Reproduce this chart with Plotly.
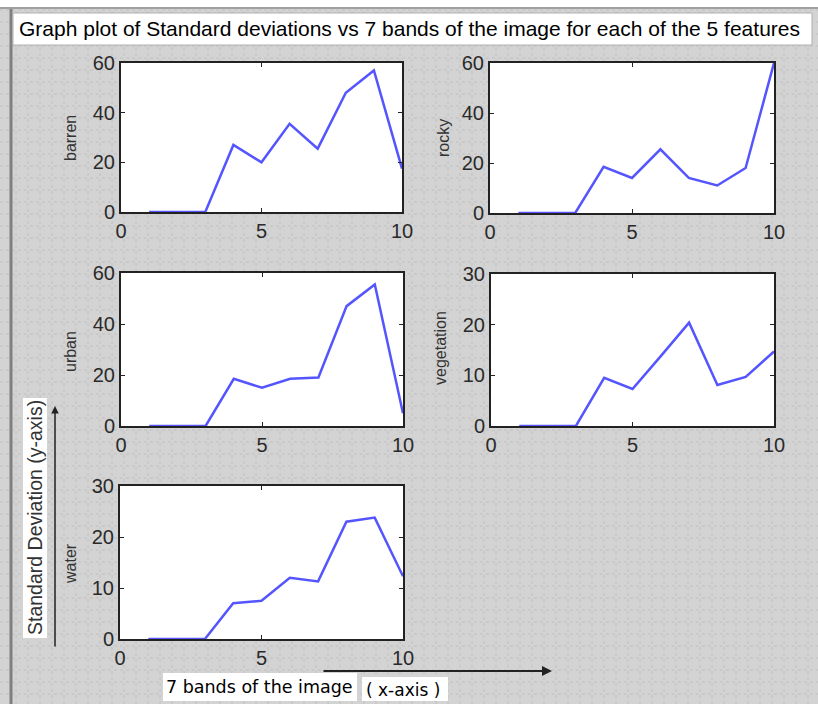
import plotly.graph_objects as go

W, H = 818, 704

bands = [1, 2, 3, 4, 5, 6, 7, 8, 9, 10]
barren = [0, 0, 0, 27, 20, 35.5, 25.5, 48, 57, 17.5]
rocky = [0, 0, 0, 18.5, 14, 25.5, 14, 11, 18, 60]
urban = [0, 0, 0, 18.5, 15, 18.5, 19, 47, 55.5, 5]
vegetation = [0, 0, 0, 9.5, 7.3, 13.8, 20.4, 8.1, 9.7, 14.7]
water = [0, 0, 0, 7, 7.5, 12, 11.3, 23, 23.8, 12.3]

feature_names = ["barren", "rocky", "urban", "vegetation", "water"]
feature_values = [barren, rocky, urban, vegetation, water]
y_max = [60, 60, 60, 30, 30]
y_ticks = [[0, 20, 40, 60], [0, 20, 40, 60], [0, 20, 40, 60], [0, 10, 20, 30], [0, 10, 20, 30]]
x_ticks = [0, 5, 10]

title_text = "Graph plot of Standard deviations vs 7 bands of the image for each of the 5 features"
y_note = "Standard Deviation (y-axis)"
x_note1 = "7 bands of the image"
x_note2 = "( x-axis )"

# plot rectangles in pixels (left, right, top, bottom)
boxes = [(121, 402, 63, 212), (490, 774, 63, 213), (121, 403, 273, 426),
         (491, 774, 274, 426), (120, 403, 486, 639)]
label_pos = [(70, 138), (443, 138), (70, 352), (440, 348), (70, 564)]

def px(x):
    return x / W

def py(y):
    return 1 - y / H

narrow = "Liberation Sans, Arial, sans-serif"
tick_font = dict(family=narrow, size=20, color="#2a2a2a")

fig = go.Figure()
shapes = []
annotations = []

# background dotted grid
for gx in range(16, W, 12):
    shapes.append(dict(type="line", xref="paper", yref="paper", x0=px(gx), x1=px(gx), y0=0, y1=1,
                       line=dict(color="#c0c0c0", width=1, dash="dot"), layer="below"))
for gy in range(10, H, 12):
    shapes.append(dict(type="line", xref="paper", yref="paper", x0=0, x1=1, y0=py(gy), y1=py(gy),
                       line=dict(color="#c0c0c0", width=1, dash="dot"), layer="below"))
# top white strip and left border
shapes.append(dict(type="rect", xref="paper", yref="paper", x0=0, x1=1, y0=py(7), y1=1,
                   fillcolor="white", line=dict(width=0), layer="below"))
shapes.append(dict(type="line", xref="paper", yref="paper", x0=px(11), x1=px(11), y0=0, y1=py(8),
                   line=dict(color="#808080", width=3), layer="below"))
shapes.append(dict(type="line", xref="paper", yref="paper", x0=0, x1=1, y0=py(8), y1=py(8),
                   line=dict(color="#a0a0a0", width=2), layer="below"))
# title box
shapes.append(dict(type="rect", xref="paper", yref="paper", x0=px(13), x1=px(812), y0=py(45), y1=py(13),
                   fillcolor="white", line=dict(color="#b0b0b0", width=1), layer="below"))
annotations.append(dict(text=title_text, xref="paper", yref="paper", x=px(17), y=py(29),
                        xanchor="left", yanchor="middle", showarrow=False,
                        font=dict(family=narrow, size=21, color="black")))

for i, (name, vals) in enumerate(zip(feature_names, feature_values)):
    n = i + 1
    xa = "xaxis" if n == 1 else f"xaxis{n}"
    ya = "yaxis" if n == 1 else f"yaxis{n}"
    xr = "x" if n == 1 else f"x{n}"
    yr = "y" if n == 1 else f"y{n}"
    l, r, t, b = boxes[i]
    fig.add_trace(go.Scatter(x=bands, y=vals, mode="lines", xaxis=xr, yaxis=yr,
                             line=dict(color="rgb(85,85,255)", width=2.5), showlegend=False))
    fig.layout[xa] = dict(domain=[px(l), px(r)], range=[0, 10], anchor=yr, tickvals=x_ticks,
                          ticks="inside", ticklen=4, tickcolor="#222", mirror="ticks",
                          showline=True, linecolor="#222", linewidth=2, showgrid=False,
                          zeroline=False, tickfont=tick_font, fixedrange=True, automargin=False)
    fig.layout[ya] = dict(domain=[py(b), py(t)], range=[0, y_max[i]], anchor=xr, tickvals=y_ticks[i],
                          ticks="inside", ticklen=4, tickcolor="#222", mirror="ticks",
                          showline=True, linecolor="#222", linewidth=2, showgrid=False,
                          zeroline=False, tickfont=tick_font, fixedrange=True, automargin=False)
    shapes.append(dict(type="rect", xref=f"{xr} domain", yref=f"{yr} domain", x0=0, x1=1, y0=0, y1=1,
                       fillcolor="white", line=dict(width=0), layer="below"))
    lx, ly = label_pos[i]
    annotations.append(dict(text=name, xref="paper", yref="paper", x=px(lx), y=py(ly),
                            textangle=-90, showarrow=False, xanchor="center", yanchor="middle",
                            font=dict(family=narrow, size=16, color="#333")))

# y-axis note
shapes.append(dict(type="rect", xref="paper", yref="paper", x0=px(23), x1=px(47), y0=py(638), y1=py(398),
                   fillcolor="white", line=dict(width=0), layer="below"))
annotations.append(dict(text=y_note, xref="paper", yref="paper", x=px(35), y=py(518), textangle=-90,
                        showarrow=False, xanchor="center", yanchor="middle",
                        font=dict(family=narrow, size=19.5, color="#333")))
annotations.append(dict(text="", xref="paper", yref="paper", x=px(55), y=py(406),
                        axref="pixel", ayref="pixel", ax=0, ay=242, showarrow=True,
                        arrowhead=2, arrowsize=1, arrowwidth=1.5, arrowcolor="#222"))
# x-axis note
shapes.append(dict(type="rect", xref="paper", yref="paper", x0=px(163), x1=px(357), y0=py(701), y1=py(673),
                   fillcolor="white", line=dict(width=0), layer="below"))
annotations.append(dict(text=x_note1, xref="paper", yref="paper", x=px(164), y=py(687),
                        xanchor="left", yanchor="middle", showarrow=False,
                        font=dict(family="DejaVu Sans, Verdana, sans-serif", size=17.5, color="black")))
shapes.append(dict(type="rect", xref="paper", yref="paper", x0=px(362), x1=px(448), y0=py(701), y1=py(677),
                   fillcolor="white", line=dict(width=0), layer="below"))
annotations.append(dict(text=x_note2, xref="paper", yref="paper", x=px(364), y=py(690),
                        xanchor="left", yanchor="middle", showarrow=False,
                        font=dict(family="DejaVu Sans, Verdana, sans-serif", size=17, color="black")))
annotations.append(dict(text="", xref="paper", yref="paper", x=px(552), y=py(671),
                        axref="pixel", ayref="pixel", ax=-230, ay=0, showarrow=True,
                        arrowhead=2, arrowsize=1, arrowwidth=2, arrowcolor="#222"))

fig.update_layout(template="none", width=W, height=H, margin=dict(l=0, r=0, t=0, b=0, autoexpand=False),
                  paper_bgcolor="#d3d3d3", plot_bgcolor="rgba(0,0,0,0)",
                  shapes=shapes, annotations=annotations, showlegend=False)

fig.write_html("out.html", config={"displayModeBar": False},
               post_script="document.body.style.margin='0px';document.body.style.overflow='hidden';")
